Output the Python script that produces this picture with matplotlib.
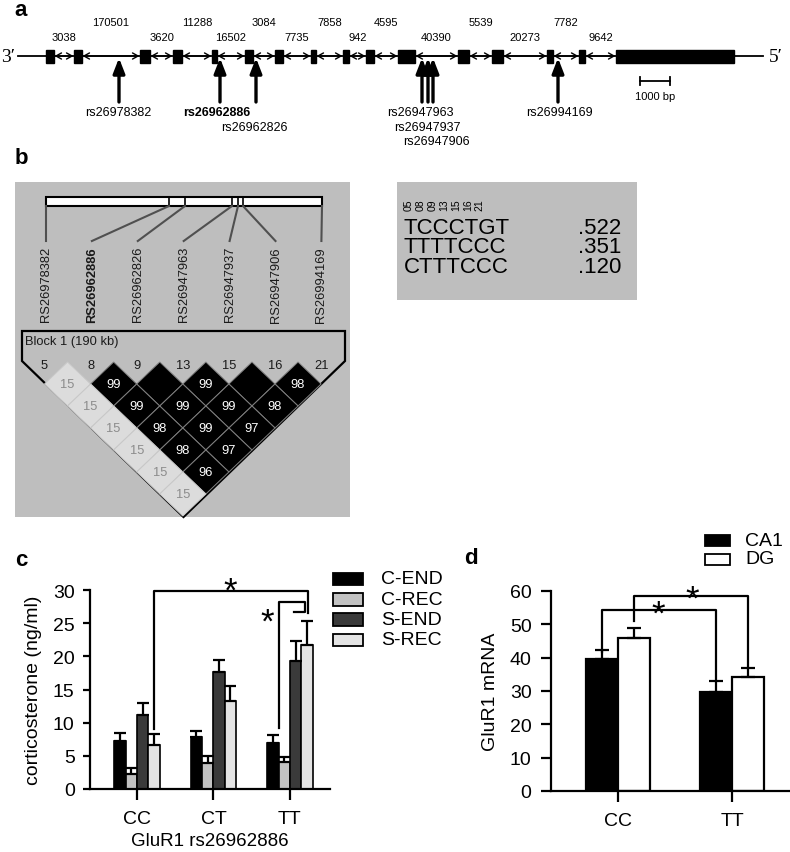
import matplotlib
matplotlib.use("Agg")
import matplotlib.pyplot as plt
from matplotlib.patches import Rectangle, Polygon
import numpy as np

plt.rcParams['font.family'] = ['Liberation Sans', 'DejaVu Sans']

W, H = 790, 853  # canvas in px, the schematic panels are drawn in these units

# ---- panel a: gene structure ----
exon_start = [46, 74, 140, 173, 212, 245, 275, 311, 343, 366, 398, 458, 492, 547, 579, 616]
exon_end = [54, 82, 150, 182, 217, 253, 283, 316, 349, 374, 415, 469, 503, 553, 585, 734]
intron_len = ["3038", "170501", "3620", "11288", "16502", "3084", "7735", "7858",
              "942", "4595", "40390", "5539", "20273", "7782", "9642"]
snp_a = ["rs26978382", "rs26962886", "rs26962826", "rs26947963", "rs26947937",
         "rs26947906", "rs26994169"]
snp_a_pos = [119, 220, 256, 422, 428, 433, 558]
snp_a_labx = [118, 217, 254, 420, 427, 436, 559]
snp_a_row = [0, 0, 1, 0, 1, 2, 0]

# ---- panel b: LD block ----
ld_names = ["RS26978382", "RS26962886", "RS26962826", "RS26947963", "RS26947937",
            "RS26947906", "RS26994169"]
ld_ids = ["5", "8", "9", "13", "15", "16", "21"]
ld_map = [46, 169, 185, 232, 238, 243, 322]
# D' values by distance (row 1 = neighbours), 100 shown blank
dprime = [[15, 99, 100, 99, 100, 98],
          [15, 99, 99, 99, 98],
          [15, 98, 99, 97],
          [15, 98, 97],
          [15, 96],
          [15]]
hap_ids = ["05", "08", "09", "13", "15", "16", "21"]
hap_seq = ["TCCCTGT", "TTTTCCC", "CTTTCCC"]
hap_freq = [".522", ".351", ".120"]

# ---- panel c: corticosterone ----
genotype_c = ["CC", "CT", "TT"]
cort_groups = ["C-END", "C-REC", "S-END", "S-REC"]
cort_colors = ["#000000", "#c2c2c2", "#3a3a3a", "#e4e4e4"]
cort_mean = [[7.2, 7.8, 7.0], [2.3, 3.9, 4.0], [11.1, 17.6, 19.3], [6.7, 13.2, 21.7]]
cort_sem = [[1.2, 1.0, 1.2], [0.9, 1.0, 0.8], [1.8, 1.9, 3.0], [1.6, 2.3, 3.6]]

# ---- panel d: GluR1 mRNA ----
genotype_d = ["CC", "TT"]
region_d = ["CA1", "DG"]
region_colors = ["#000000", "#ffffff"]
mrna_mean = [[39.7, 29.8], [45.9, 34.1]]
mrna_sem = [[2.5, 3.2], [2.9, 2.7]]

fig = plt.figure(figsize=(W / 100, H / 100), dpi=100)
ax = fig.add_axes([0, 0, 1, 1])
ax.set_xlim(0, W)
ax.set_ylim(H, 0)
ax.axis('off')

serif = ['Liberation Serif', 'DejaVu Serif']

# panel a
ax.text(21, 10, 'a', fontsize=16, fontweight='bold', ha='center', va='center')
ax.plot([18, 763], [57, 57], color='k', lw=1.3)
ax.text(1, 57, '3\u2032', family=serif, fontsize=14, ha='left', va='center')
ax.text(769, 57, '5\u2032', family=serif, fontsize=14, ha='left', va='center')
for s, e in zip(exon_start, exon_end):
    ax.add_patch(Rectangle((s, 50.5), e - s, 13, color='k', zorder=3))
for i, lab in enumerate(intron_len):
    x0, x1 = exon_end[i], exon_start[i + 1]
    ax.annotate('', xy=(x1 - 0.5, 57), xytext=(x0 + 0.5, 57),
                arrowprops=dict(arrowstyle='<->,head_length=0.4,head_width=0.22',
                                lw=1, color='k', shrinkA=0, shrinkB=0))
    ax.text((x0 + x1) / 2, 23 if i % 2 else 38, lab, fontsize=8, ha='center', va='center')
for name, pos, lx, r in zip(snp_a, snp_a_pos, snp_a_labx, snp_a_row):
    ax.annotate('', xy=(pos, 59), xytext=(pos, 103),
                arrowprops=dict(arrowstyle='-|>,head_length=0.9,head_width=0.35',
                                lw=2.4, color='k', shrinkA=0, shrinkB=0))
    ax.text(lx, 113 + 14.5 * r, name, fontsize=9, ha='center', va='center',
            fontweight='bold' if name == "rs26962886" else 'normal')
ax.plot([640, 670], [82, 82], color='k', lw=1.3)
ax.plot([640, 640], [78, 86], color='k', lw=1.3)
ax.plot([670, 670], [78, 86], color='k', lw=1.3)
ax.text(655, 97, '1000 bp', fontsize=8, ha='center', va='center')

# panel b
ax.text(21, 158, 'b', fontsize=16, fontweight='bold', ha='center', va='center')
ax.add_patch(Rectangle((15, 183), 335, 335, facecolor='#bebebe', edgecolor='none'))
ax.add_patch(Rectangle((46, 198), 276, 9, facecolor='white', edgecolor='k', lw=1.5))
for m in ld_map[1:-1]:
    ax.plot([m, m], [198, 207], color='k', lw=1.2)
for k, (name, m) in enumerate(zip(ld_names, ld_map)):
    lx = 46 + 45.9 * k
    ax.plot([m, lx], [207, 242], color='#505050', lw=1.5)
    ax.text(lx, 247, name, rotation=90, ha='center', va='top', fontsize=9.3,
            color='#1a1a1a', fontweight='bold' if k == 1 else 'normal')
ax.add_patch(Polygon([(22, 332), (345, 332), (345, 362), (183.5, 518), (22, 362)],
                     closed=True, fill=False, edgecolor='k', lw=1.6))
ax.text(25, 342, 'Block 1 (190 kb)', fontsize=9.3, ha='left', va='center', color='#1a1a1a')
xm = [44.5 + 46.1 * k for k in range(len(ld_ids))]
hw, hh = 23.05, 22
for k, lab in enumerate(ld_ids):
    ax.text(xm[k], 366, lab, fontsize=9.3, ha='center', va='center', color='#1a1a1a')
for d, row in enumerate(dprime, start=1):
    for i, v in enumerate(row):
        cx = (xm[i] + xm[i + d]) / 2
        cy = 363 + hh * d
        dark = v > 50
        ax.add_patch(Polygon([(cx, cy - hh), (cx + hw, cy), (cx, cy + hh), (cx - hw, cy)],
                             closed=True, facecolor='k' if dark else '#dcdcdc',
                             edgecolor='#808080' if dark else '#c8c8c8', lw=0.7))
        if v < 100:
            ax.text(cx, cy, str(v), fontsize=9.3, ha='center', va='center',
                    color='white' if dark else '#8c8c8c')

# haplotype table
ax.add_patch(Rectangle((397, 183), 240, 118, facecolor='#bebebe', edgecolor='none'))
for k, lab in enumerate(hap_ids):
    ax.text(409 + 11.8 * k, 211, lab, rotation=90, fontsize=7.5, ha='center', va='bottom')
for r, (seq, fr) in enumerate(zip(hap_seq, hap_freq)):
    ax.text(404, 228 + 19.5 * r, seq, fontsize=16, ha='left', va='center')
    ax.text(621, 228 + 19.5 * r, fr, fontsize=16, ha='right', va='center')


def style(a, ylen, ypad):
    a.set_facecolor('none')
    for s in ['top', 'right']:
        a.spines[s].set_visible(False)
    for s in ['left', 'bottom']:
        a.spines[s].set_linewidth(1.6)
    a.tick_params(axis='y', length=ylen, width=1.6, pad=ypad, labelsize=14)
    a.tick_params(axis='x', length=8, width=1.6, pad=7, labelsize=14)


# panel c
ax.text(21, 560, 'c', fontsize=16, fontweight='bold', ha='center', va='center')
axc = fig.add_axes([90 / W, 1 - 790 / H, 240 / W, 199 / H])
style(axc, 5, 6)
xs = np.arange(len(genotype_c))
w = 0.148
for k, g in enumerate(cort_groups):
    xb = xs + (k - 1.5) * w
    axc.bar(xb, cort_mean[k], width=w, color=cort_colors[k], edgecolor='k', lw=1.2, zorder=2)
    axc.errorbar(xb, cort_mean[k], yerr=[np.zeros(len(xs)), cort_sem[k]], fmt='none',
                 ecolor='k', elinewidth=1.6, capsize=4.2, capthick=1.6, zorder=3)
axc.set_xlim(-0.614, 2.523)
axc.set_ylim(0, 30)
axc.set_yticks(range(0, 31, 5))
axc.set_xticks(xs)
axc.set_xticklabels(genotype_c)
axc.set_xlabel('GluR1 rs26962886', fontsize=13.5, labelpad=4)
axc.set_ylabel('corticosterone (ng/ml)', fontsize=14, labelpad=8)
bk = dict(color='k', lw=1.6, clip_on=False, zorder=4)
axc.plot([0.216, 0.216, 2.235, 2.235], [9.0, 29.85, 29.85, 26.5], **bk)
axc.plot([1.856, 1.856, 2.196, 2.196, 2.052], [9.2, 28.2, 28.2, 26.7, 26.7], **bk)
axc.text(1.216, 28.4, '*', fontsize=25, ha='center', va='baseline', clip_on=False)
axc.text(1.70, 23.8, '*', fontsize=25, ha='center', va='baseline', clip_on=False)
for k, g in enumerate(cort_groups):
    yc = 580 + 20.3 * k
    ax.add_patch(Rectangle((333, yc - 6.3), 30, 12.6, facecolor=cort_colors[k],
                           edgecolor='k', lw=1.3))
    ax.text(381, yc, g, fontsize=14, ha='left', va='center')

# panel d
ax.text(471, 558, 'd', fontsize=16, fontweight='bold', ha='center', va='center')
axd = fig.add_axes([551 / W, 1 - 792 / H, 238 / W, 200 / H])
style(axd, 7, 7)
xd = np.arange(len(genotype_d))
wd = 0.28
for k, rg in enumerate(region_d):
    xb = xd + (k - 0.5) * wd
    axd.bar(xb, mrna_mean[k], width=wd, color=region_colors[k], edgecolor='k', lw=1.6, zorder=2)
    axd.errorbar(xb, mrna_mean[k], yerr=[np.zeros(len(xd)), mrna_sem[k]], fmt='none',
                 ecolor='k', elinewidth=1.6, capsize=5, capthick=1.6, zorder=3)
axd.set_xlim(-0.588, 1.5)
axd.set_ylim(0, 60)
axd.set_yticks(range(0, 61, 10))
axd.set_xticks(xd)
axd.set_xticklabels(genotype_d)
axd.set_ylabel('GluR1 mRNA', fontsize=14, labelpad=8)
axd.plot([-0.14, -0.14, 0.86, 0.86], [41.7, 54.4, 54.4, 33.1], **bk)
axd.plot([0.14, 0.14, 1.14, 1.14], [51.1, 58.6, 58.6, 36.9], **bk)
axd.text(0.35, 50.1, '*', fontsize=25, ha='center', va='baseline', clip_on=False)
axd.text(0.65, 54.6, '*', fontsize=25, ha='center', va='baseline', clip_on=False)
for k, rg in enumerate(region_d):
    yc = 541.5 + 18.5 * k
    ax.add_patch(Rectangle((705, yc - 5.5), 25, 11, facecolor=region_colors[k],
                           edgecolor='k', lw=1.3))
    ax.text(745, yc, rg, fontsize=14, ha='left', va='center')

fig.savefig('out.png', dpi=100)
